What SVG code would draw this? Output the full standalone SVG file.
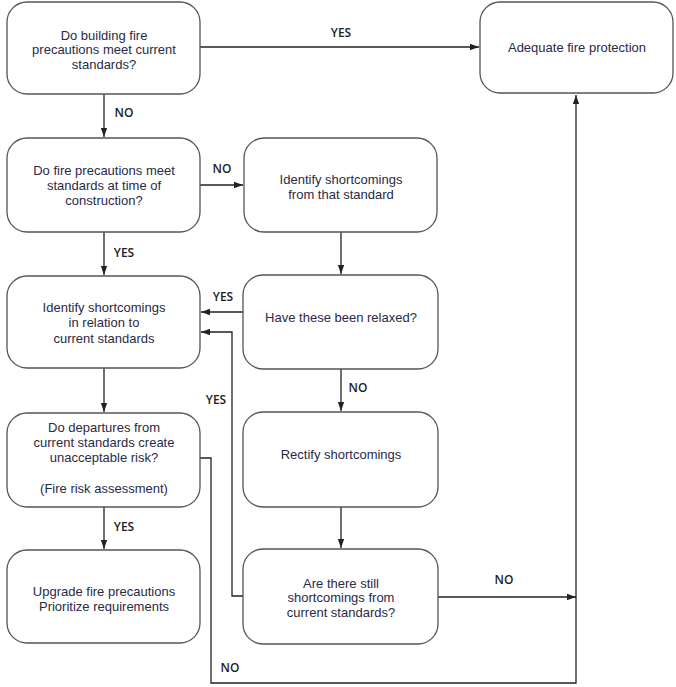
<svg xmlns="http://www.w3.org/2000/svg" width="676" height="687" viewBox="0 0 676 687">
<style>
.n{fill:#fff;stroke:#555;stroke-width:1.3}
.t{font-family:"Liberation Sans",Arial,sans-serif;font-size:13px;fill:#2a2a45;text-anchor:middle}
.l{font-family:"Open Sans","Noto Sans",sans-serif;font-size:12px;fill:#222;text-anchor:middle;font-weight:600}
.c{fill:none;stroke:#222;stroke-width:1.3}
</style>
<defs>
<marker id="a" viewBox="0 0 10 10" refX="10" refY="5" markerWidth="9" markerHeight="9" markerUnits="userSpaceOnUse" orient="auto">
<path d="M0,1.5 L10,5 L0,8.5 z" fill="#222"/>
</marker>
</defs>
<rect width="676" height="687" fill="#fff"/>
<g id="connectors">
<path class="c" d="M200,47 H479" marker-end="url(#a)"/>
<path class="c" d="M104,94 V137" marker-end="url(#a)"/>
<path class="c" d="M200,185 H243" marker-end="url(#a)"/>
<path class="c" d="M104,232 V275" marker-end="url(#a)"/>
<path class="c" d="M341,232 V274" marker-end="url(#a)"/>
<path class="c" d="M243,312 H201" marker-end="url(#a)"/>
<path class="c" d="M243,596 H232 V332 H201" marker-end="url(#a)"/>
<path class="c" d="M341,369 V411" marker-end="url(#a)"/>
<path class="c" d="M104,368 V412" marker-end="url(#a)"/>
<path class="c" d="M341,507 V548" marker-end="url(#a)"/>
<path class="c" d="M104,507 V549" marker-end="url(#a)"/>
<path class="c" d="M438,597 H576" marker-end="url(#a)"/>
<path class="c" d="M200,458 H211 V683 H576 V95" marker-end="url(#a)"/>
<text class="l" x="341" y="37">YES</text>
<text class="l" x="124" y="117">NO</text>
<text class="l" x="222" y="173">NO</text>
<text class="l" x="124" y="257">YES</text>
<text class="l" x="223" y="301">YES</text>
<text class="l" x="216" y="404">YES</text>
<text class="l" x="358" y="392">NO</text>
<text class="l" x="124" y="531">YES</text>
<text class="l" x="504" y="584">NO</text>
<text class="l" x="230" y="672">NO</text>
</g>
<g id="n1"><rect class="n" x="7" y="2" width="193" height="92" rx="20"/>
<text class="t" x="104" y="40">Do building fire</text><text class="t" x="104" y="54">precautions meet current</text><text class="t" x="104" y="69">standards?</text></g>
<g id="n2"><rect class="n" x="480" y="2" width="193" height="91" rx="20"/>
<text class="t" x="577" y="52">Adequate fire protection</text></g>
<g id="n3"><rect class="n" x="7" y="138" width="193" height="94" rx="20"/>
<text class="t" x="104" y="175">Do fire precautions meet</text><text class="t" x="104" y="190">standards at time of</text><text class="t" x="104" y="205">construction?</text></g>
<g id="n4"><rect class="n" x="244" y="138" width="193" height="94" rx="20"/>
<text class="t" x="341" y="184">Identify shortcomings</text><text class="t" x="341" y="199">from that standard</text></g>
<g id="n5"><rect class="n" x="7" y="276" width="193" height="92" rx="20"/>
<text class="t" x="104" y="312">Identify shortcomings</text><text class="t" x="104" y="327">in relation to</text><text class="t" x="104" y="343">current standards</text></g>
<g id="n6"><rect class="n" x="243" y="275" width="195" height="94" rx="20"/>
<text class="t" x="341" y="322">Have these been relaxed?</text></g>
<g id="n7"><rect class="n" x="7" y="413" width="193" height="94" rx="20"/>
<text class="t" x="104" y="432">Do departures from</text><text class="t" x="104" y="447">current standards create</text><text class="t" x="104" y="462">unacceptable risk?</text><text class="t" x="104" y="493">(Fire risk assessment)</text></g>
<g id="n8"><rect class="n" x="243" y="412" width="195" height="95" rx="20"/>
<text class="t" x="341" y="459">Rectify shortcomings</text></g>
<g id="n9"><rect class="n" x="7" y="550" width="193" height="93" rx="20"/>
<text class="t" x="104" y="596">Upgrade fire precautions</text><text class="t" x="104" y="611">Prioritize requirements</text></g>
<g id="n10"><rect class="n" x="243" y="549" width="195" height="95" rx="20"/>
<text class="t" x="341" y="588">Are there still</text><text class="t" x="341" y="602">shortcomings from</text><text class="t" x="341" y="617">current standards?</text></g>
</svg>
